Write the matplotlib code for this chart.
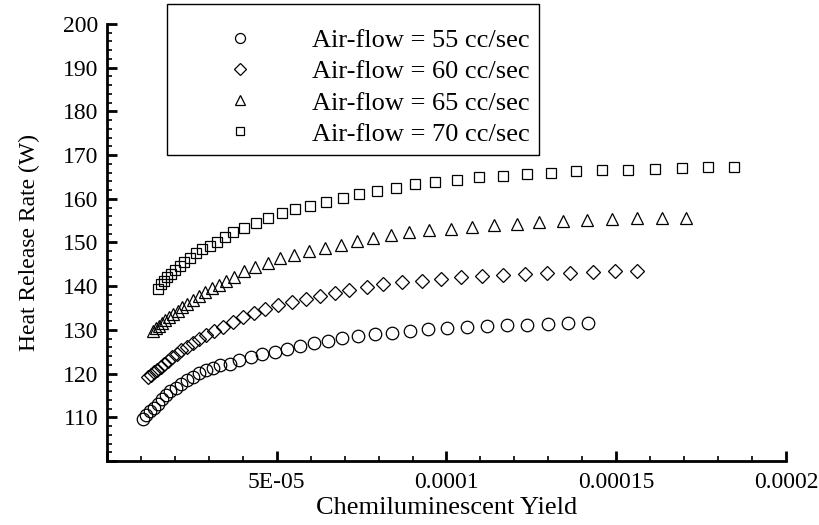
import numpy as np
import matplotlib
matplotlib.use("Agg")
import matplotlib.pyplot as plt
from matplotlib.ticker import MultipleLocator

plt.rcParams['font.family'] = ['Liberation Serif', 'DejaVu Serif']

# values; x in units of 1e-5
x_55 = [1.07, 1.16, 1.27, 1.37, 1.49, 1.61, 1.74, 1.87, 2.02, 2.18, 2.36, 2.53, 2.72,
        2.92, 3.12, 3.34, 3.62, 3.90, 4.23, 4.57, 4.95, 5.31, 5.68, 6.10, 6.50, 6.92,
        7.40, 7.89, 8.40, 8.92, 9.46, 10.02, 10.59, 11.18, 11.77, 12.38, 12.98, 13.59, 14.16]
y_55 = [109.5, 110.5, 111.4, 112.2, 113.1, 114.1, 115.0, 116.0, 116.8, 117.7, 118.5, 119.3, 120.1,
        120.8, 121.3, 121.9, 122.3, 123.1, 123.7, 124.4, 125.0, 125.6, 126.3, 126.9, 127.5, 128.2,
        128.7, 129.1, 129.4, 129.7, 130.1, 130.5, 130.7, 130.9, 131.1, 131.2, 131.4, 131.5, 131.6]

x_60 = [1.21, 1.30, 1.38, 1.47, 1.58, 1.68, 1.80, 1.91, 2.05, 2.19, 2.36, 2.53, 2.72, 2.93,
        3.15, 3.42, 3.72, 4.01, 4.33, 4.65, 5.05, 5.44, 5.86, 6.27, 6.72, 7.13, 7.65, 8.14,
        8.70, 9.27, 9.84, 10.44, 11.05, 11.67, 12.31, 12.97, 13.64, 14.31, 14.96, 15.62]
y_60 = [119.2, 119.7, 120.3, 120.9, 121.6, 122.3, 122.9, 123.7, 124.5, 125.3, 126.2, 126.9, 127.9, 128.8,
        129.7, 130.7, 131.9, 132.9, 133.9, 134.7, 135.6, 136.4, 137.1, 137.8, 138.5, 139.1, 139.8, 140.4,
        140.9, 141.3, 141.7, 142.1, 142.4, 142.6, 142.8, 143.0, 143.1, 143.3, 143.4, 143.5]

x_65 = [1.36, 1.44, 1.53, 1.62, 1.72, 1.83, 1.94, 2.08, 2.21, 2.36, 2.52, 2.70, 2.89, 3.09,
        3.30, 3.51, 3.74, 4.04, 4.36, 4.73, 5.10, 5.52, 5.95, 6.42, 6.89, 7.36, 7.84, 8.36,
        8.90, 9.49, 10.12, 10.76, 11.40, 12.07, 12.73, 13.44, 14.13, 14.88, 15.62, 16.34, 17.06]
y_65 = [129.7, 130.4, 131.0, 131.5, 132.2, 132.9, 133.6, 134.4, 135.2, 136.0, 136.8, 137.7, 138.6, 139.5,
        140.3, 141.1, 142.0, 143.4, 144.5, 145.4, 146.4, 147.2, 148.0, 148.8, 149.5, 150.3, 151.1, 151.8,
        152.4, 152.8, 153.2, 153.6, 154.0, 154.3, 154.7, 154.9, 155.1, 155.3, 155.5, 155.6, 155.7]

x_70 = [1.51, 1.59, 1.68, 1.78, 1.89, 2.00, 2.14, 2.28, 2.44, 2.62, 2.81, 3.02, 3.24, 3.48,
        3.72, 4.04, 4.39, 4.75, 5.15, 5.54, 5.98, 6.46, 6.94, 7.43, 7.96, 8.51, 9.07, 9.66,
        10.30, 10.97, 11.66, 12.36, 13.07, 13.81, 14.57, 15.35, 16.14, 16.93, 17.71, 18.47]
y_70 = [139.4, 140.4, 141.2, 142.1, 142.9, 143.8, 144.7, 145.6, 146.5, 147.5, 148.4, 149.3, 150.2, 151.3,
        152.4, 153.4, 154.5, 155.5, 156.7, 157.6, 158.4, 159.3, 160.1, 161.0, 161.8, 162.5, 163.3, 163.9,
        164.4, 164.9, 165.3, 165.7, 166.0, 166.3, 166.5, 166.7, 166.9, 167.1, 167.2, 167.3]

labels = ["Air-flow = 55 cc/sec", "Air-flow = 60 cc/sec",
          "Air-flow = 65 cc/sec", "Air-flow = 70 cc/sec"]
markers = ["o", "D", "^", "s"]
sizes = [9, 7.5, 9, 7.5]

fig = plt.figure(figsize=(8.2, 5.25), dpi=100)
ax = fig.add_axes([0.1305, 0.1219, 0.828, 0.8324])

series = [(x_55, y_55), (x_60, y_60), (x_65, y_65), (x_70, y_70)]
for (xs, ys), m, ms, lab in zip(series, markers, sizes, labels):
    ax.plot(np.array(xs) * 1e-5, ys, linestyle="none", marker=m, markersize=ms,
            markerfacecolor="none", markeredgecolor="black", markeredgewidth=0.9,
            label=lab)

ax.set_xlim(0, 2e-4)
ax.set_ylim(100, 200)

ax.set_xticks([0, 5e-5, 1e-4, 1.5e-4, 2e-4])
ax.set_xticklabels(["", "5E-05", "0.0001", "0.00015", "0.0002"])
ax.set_yticks(list(range(100, 201, 10)))
ax.set_yticklabels([""] + [str(v) for v in range(110, 201, 10)])
ax.xaxis.set_minor_locator(MultipleLocator(1e-5))
ax.yaxis.set_minor_locator(MultipleLocator(2))

ax.tick_params(which="both", direction="in", labelsize=17, top=False, right=False)
ax.tick_params(which="major", length=7, width=2, pad=6)
ax.tick_params(axis="x", which="major", pad=8)
ax.tick_params(which="minor", length=3.5, width=1.2)

for s in ["top", "right"]:
    ax.spines[s].set_visible(False)
for s in ["left", "bottom"]:
    ax.spines[s].set_linewidth(2)

ax.set_xlabel("Chemiluminescent Yield", fontsize=19, labelpad=3)
ax.set_ylabel("Heat Release Rate (W)", fontsize=17, labelpad=17)

# blank tiny title pushes the rows down inside the box, like the original
leg = ax.legend(loc="upper left", bbox_to_anchor=(0.2037, 0.992),
                bbox_transform=fig.transFigure, fontsize=19, frameon=True,
                fancybox=False, edgecolor="black", framealpha=1,
                handlelength=4.85, handletextpad=0.3, borderpad=0.34,
                labelspacing=0.29, borderaxespad=0, markerscale=0.8,
                title=" ", title_fontsize=6)
leg.get_frame().set_linewidth(1.0)

fig.savefig("out.png", dpi=100)
